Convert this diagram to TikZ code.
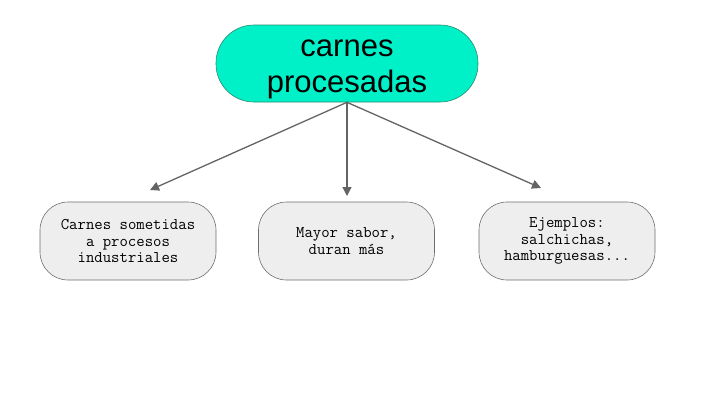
\documentclass[tikz,border=0pt]{standalone}
\usepackage{fontspec}
\setmainfont{Liberation Sans}
\usetikzlibrary{arrows.meta}
\definecolor{topfill}{RGB}{0,240,200}
\definecolor{topborder}{RGB}{40,140,110}
\definecolor{boxfill}{RGB}{238,238,238}
\definecolor{boxborder}{RGB}{110,110,110}
\definecolor{arrowcol}{RGB}{100,100,100}
\tikzset{
  topnode/.style={draw=topborder, fill=topfill, rounded corners=38pt, minimum width=262pt, minimum height=77pt, inner sep=0pt, line width=0.6pt},
  toptext/.style={inner sep=0pt, align=center, font=\fontsize{31}{36}\selectfont},
  leafbox/.style={draw=boxborder, fill=boxfill, rounded corners=28pt, minimum width=176pt, minimum height=78pt, inner sep=0pt, align=center, font=\ttfamily\fontsize{16.3}{16.5}\selectfont, line width=0.6pt},
  conn/.style={draw=arrowcol, line width=1.3pt, -{Triangle[length=9pt,width=9pt]}}
}
\begin{document}
\begin{tikzpicture}[x=1pt,y=-1pt]
\useasboundingbox (0,0) rectangle (720,405);
\node[topnode] (top) at (347,63.5) {};
\node[toptext] (toplabel) at (347,69) {carnes\\procesadas};
\node[leafbox] (b1) at (128,241) {Carnes sometidas\\a procesos\\industriales};
\node[leafbox] (b2) at (346.5,241) {Mayor sabor,\\duran más};
\node[leafbox] (b3) at (567,241) {Ejemplos:\\salchichas,\\hamburguesas...};
\coordinate (e1) at (150,190);
\coordinate (e2) at (347,196);
\coordinate (e3) at (541,188);
\draw[conn] (top.south) -- (e1);
\draw[conn] (top.south) -- (e2);
\draw[conn] (top.south) -- (e3);
\end{tikzpicture}
\end{document}
